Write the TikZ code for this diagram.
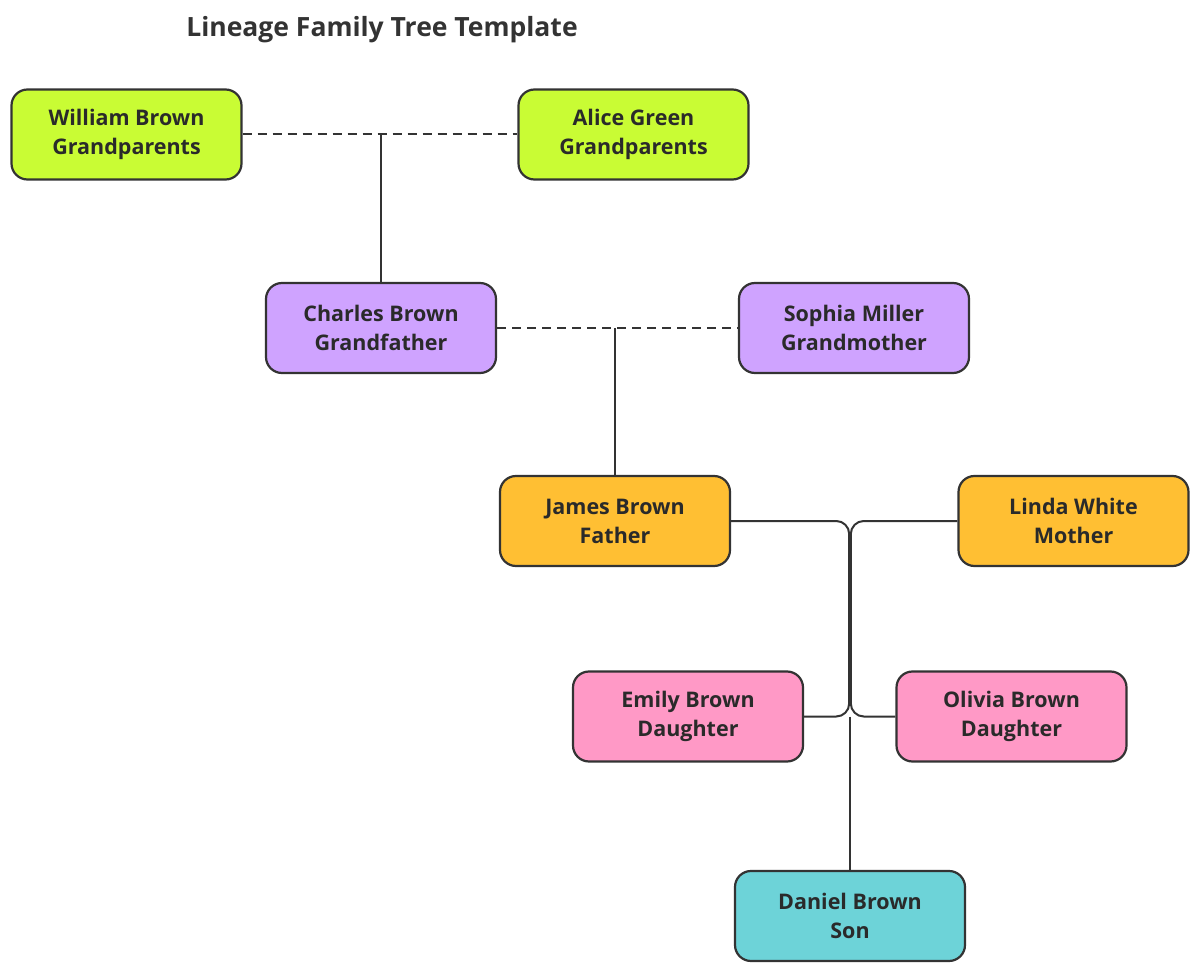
\documentclass[tikz,border=0pt]{standalone}
\usepackage{fontspec}
\setmainfont{Open Sans}
\definecolor{cline}{HTML}{333333}
\definecolor{cgreen}{HTML}{C9FC34}
\definecolor{cpurple}{HTML}{CFA3FF}
\definecolor{corange}{HTML}{FFBF33}
\definecolor{cpink}{HTML}{FF99C6}
\definecolor{ccyan}{HTML}{6DD3D8}
\definecolor{ctext}{HTML}{2A2A2A}
\begin{document}
\begin{tikzpicture}[x=1pt,y=-1pt,
  person/.style={draw=cline, line width=2.2pt, rounded corners=16pt,
    minimum width=230pt, minimum height=90pt, align=center,
    font=\fontsize{21.5}{29}\selectfont\bfseries, text=ctext, inner sep=0pt},
  conn/.style={draw=cline, line width=2pt},
  spouse/.style={conn, dash pattern=on 9pt off 6pt},
]
\useasboundingbox (0,0) rectangle (1200,973);
\node[font=\fontsize{26.5}{30}\selectfont\bfseries, text=cline] (title) at (382,30) {Lineage Family Tree Template};

\node[person, fill=cgreen] (william) at (126.5,134.5) {William Brown\\Grandparents};
\node[person, fill=cgreen] (alice) at (633.5,134.5) {Alice Green\\Grandparents};
\node[person, fill=cpurple] (charles) at (381,328) {Charles Brown\\Grandfather};
\node[person, fill=cpurple] (sophia) at (854,328) {Sophia Miller\\Grandmother};
\node[person, fill=corange] (james) at (615,521) {James Brown\\Father};
\node[person, fill=corange] (linda) at (1073.5,521) {Linda White\\Mother};
\node[person, fill=cpink] (emily) at (688,716.5) {Emily Brown\\Daughter};
\node[person, fill=cpink] (olivia) at (1011.5,716.5) {Olivia Brown\\Daughter};
\node[person, fill=ccyan] (daniel) at (850,916) {Daniel Brown\\Son};

\coordinate (gm) at (381,134.5);
\coordinate (pm) at (615,328);
\coordinate (jl) at (849.2,521);
\coordinate (jr) at (850.8,521);
\coordinate (kl) at (849.2,716.5);
\coordinate (kr) at (850.8,716.5);
\coordinate (km) at (850,716.5);

\draw[spouse] (william.east) -- (alice.west);
\draw[conn] (gm) -- (charles.north);
\draw[spouse] (charles.east) -- (sophia.west);
\draw[conn] (pm) -- (james.north);
\draw[conn, rounded corners=13pt] (james.east) -- (jl) -- (kl) -- (emily.east);
\draw[conn, rounded corners=13pt] (linda.west) -- (jr) -- (kr) -- (olivia.west);
\draw[conn] (km) -- (daniel.north);
\end{tikzpicture}
\end{document}
